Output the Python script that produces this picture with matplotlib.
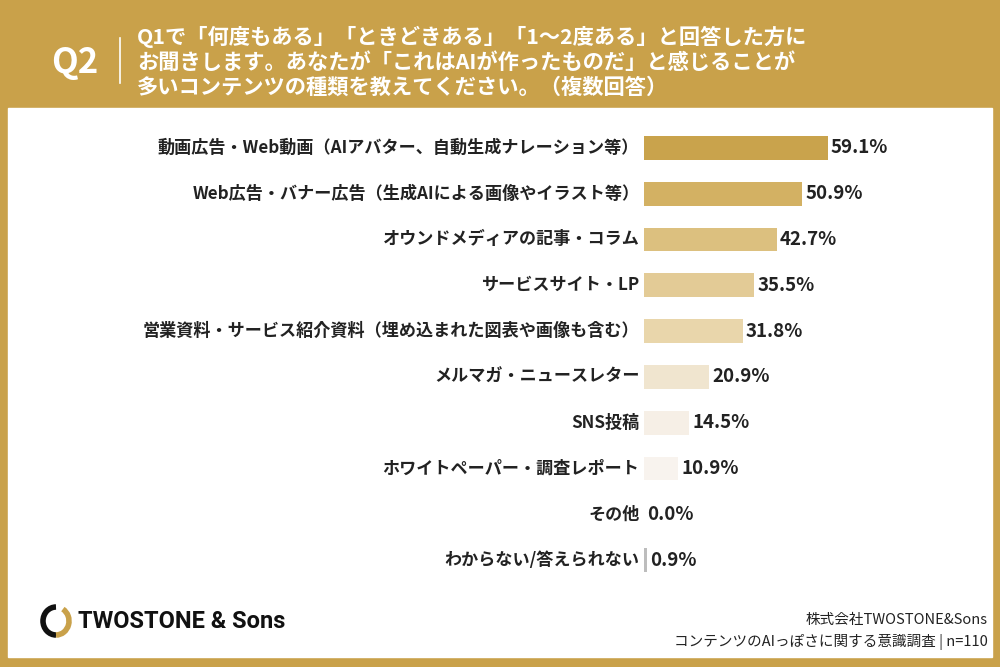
import matplotlib
matplotlib.use("Agg")
import matplotlib.pyplot as plt
from matplotlib.patches import Rectangle, Arc

plt.rcParams['font.family'] = ['Noto Sans CJK JP', 'DejaVu Sans']

categories = ["動画広告・Web動画（AIアバター、自動生成ナレーション等）",
              "Web広告・バナー広告（生成AIによる画像やイラスト等）",
              "オウンドメディアの記事・コラム",
              "サービスサイト・LP",
              "営業資料・サービス紹介資料（埋め込まれた図表や画像も含む）",
              "メルマガ・ニュースレター",
              "SNS投稿",
              "ホワイトペーパー・調査レポート",
              "その他",
              "わからない/答えられない"]
values = [59.1, 50.9, 42.7, 35.5, 31.8, 20.9, 14.5, 10.9, 0.0, 0.9]
colors = ["#c9a34c", "#d3b163", "#dcc07f", "#e3cb96", "#e9d6ab", "#f0e5cf",
          "#f6efe6", "#f8f3ee", "#f8f3ee", "#bdbdbd"]

W, H = 1000, 667
fig = plt.figure(figsize=(10, 6.67), dpi=100)
fig.patch.set_facecolor("#c9a14a")
bg = fig.add_axes([0, 0, 1, 1])
bg.set_xlim(0, W); bg.set_ylim(H, 0); bg.axis("off")
bg.add_patch(Rectangle((8, 108), 984, 549, color="white"))
bg.text(75, 62, "Q2", color="white", fontsize=25, fontweight="bold", ha="center", va="center")
bg.plot([120, 120], [38, 83], color="white", lw=1.2)
title = ("Q1で「何度もある」「ときどきある」「1～2度ある」と回答した方に\n"
         "お聞きします。あなたが「これはAIが作ったものだ」と感じることが\n"
         "多いコンテンツの種類を教えてください。（複数回答）")
bg.text(137, 62, title, color="white", fontsize=15.3, fontweight="bold", ha="left", va="center", linespacing=1.22)
# logo
bg.add_patch(Arc((56, 621), 26, 28, theta1=90, theta2=270, color="#111111", lw=4))
bg.add_patch(Arc((56, 621), 26, 28, theta1=-60, theta2=90, color="#c9a14a", lw=4))
bg.text(78, 622, "TWOSTONE & Sons", fontsize=17, fontweight="bold", color="#111111", ha="left", va="center",
        family=['Roboto', 'DejaVu Sans'])
bg.text(988, 620, "株式会社TWOSTONE&Sons", fontsize=10.5, ha="right", va="center", color="#222222")
bg.text(988, 642, "コンテンツのAIっぽさに関する意識調査 | n=110", fontsize=10.5, ha="right", va="center", color="#222222")

ax = fig.add_axes([644 / W, 1 - 583 / H, 320 / W, 458 / H])
n = len(values)
ys = list(range(n))
ax.barh(ys, values, height=0.52, color=colors, left=0)
ax.set_ylim(n - 0.5, -0.5)
ax.set_xlim(0, 320 / 3.11)
ax.axis("off")
for y, v, c in zip(ys, values, categories):
    ax.text(v + 1.0, y, f"{v:.1f}%", fontsize=13.5, fontweight="bold", ha="left", va="center", color="#222222")
    ax.text(-1.5, y, c, fontsize=12.3, fontweight="bold", ha="right", va="center", color="#222222")
fig.savefig("out.png", dpi=100, facecolor=fig.get_facecolor())
